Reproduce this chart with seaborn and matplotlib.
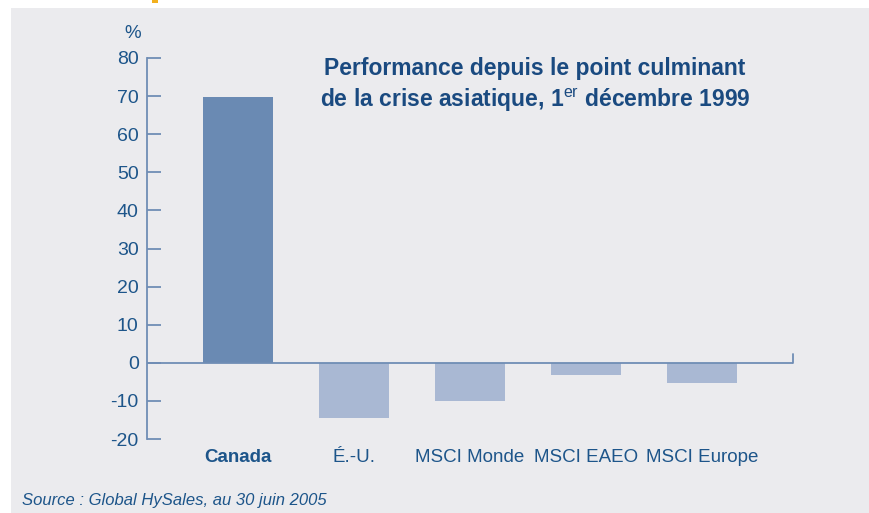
import matplotlib
matplotlib.use("Agg")
import matplotlib.pyplot as plt
import seaborn as sns
import pandas as pd
from matplotlib.patches import Rectangle

# Data
categories = ["Canada", "É.-U.", "MSCI Monde", "MSCI EAEO", "MSCI Europe"]
performance = [69.8, -14.6, -9.9, -3.1, -5.4]
yticks = [-20, -10, 0, 10, 20, 30, 40, 50, 60, 70, 80]

df = pd.DataFrame({"indice": categories, "perf": performance})

sns.set_theme(style="white")
plt.rcParams["font.family"] = ["Liberation Sans Narrow", "Liberation Sans", "DejaVu Sans"]
plt.rcParams["mathtext.fontset"] = "custom"
plt.rcParams["mathtext.rm"] = "Liberation Sans"

txt = "#1d558a"
spine = "#6f8db5"
bg = "#ebebee"
colors = ["#6a8ab3", "#a9b8d3", "#a9b8d3", "#a9b8d3", "#a9b8d3"]

fig = plt.figure(figsize=(8.69, 5.13), dpi=100)
fig.patch.set_facecolor("white")
# grey panel behind the chart
fig.patches.append(Rectangle((11 / 869, 0), 1, 1 - 8 / 513, transform=fig.transFigure,
                             facecolor=bg, edgecolor="none", zorder=-5))
fig.patches.append(Rectangle((152 / 869, 1 - 3 / 513), 6 / 869, 3 / 513, transform=fig.transFigure,
                             facecolor="#f2b01e", edgecolor="none", zorder=-5))

ax = fig.add_axes([147 / 869, 1 - 439 / 513, (793 - 147) / 869, (439 - 58) / 513])
ax.set_facecolor("none")

sns.barplot(data=df, x="indice", y="perf", hue="indice", palette=colors,
            width=0.6, saturation=1, linewidth=0, edgecolor="none",
            legend=False, ax=ax, zorder=2)

ax.set_ylim(-20, 80)
ax.set_xlim(-0.784, 4.784)
ax.set_yticks(yticks)
ax.set_yticklabels([str(v) for v in yticks], fontsize=14, color=txt)
ax.set_xlabel("")
ax.set_ylabel("")

for s in ["top", "right", "bottom"]:
    ax.spines[s].set_visible(False)
ax.spines["left"].set_color(spine)
ax.spines["left"].set_linewidth(1.3)
ax.tick_params(axis="y", left=True, direction="in", length=10, width=1.3, color=spine, pad=6)
ax.tick_params(axis="x", length=0, pad=7)

# zero line with small upturned end
ax.axhline(0, color=spine, lw=1.3, zorder=3)
ax.plot([4.784, 4.784], [0, 2.4], color=spine, lw=1.3, clip_on=False, zorder=3)

for lbl in ax.get_xticklabels():
    lbl.set_color(txt)
    lbl.set_fontsize(13.5)
    if lbl.get_text() == "Canada":
        lbl.set_fontweight("bold")

fig.text(133 / 869, 1 - 33 / 513, "%", color=txt, fontsize=13.5, ha="center", va="center")

fig.text(535 / 869, 1 - 69 / 513, "Performance depuis le point culminant",
         color="#1a4a80", fontsize=16.5, fontweight="bold", ha="center", va="center")
fig.text(535 / 869, 1 - 100 / 513, r"de la crise asiatique, 1$^{\mathrm{er}}$ décembre 1999",
         color="#1a4a80", fontsize=16.5, fontweight="bold", ha="center", va="center")

fig.text(22 / 869, 1 - 500 / 513, "Source : Global HySales, au 30 juin 2005",
         color=txt, fontsize=12, style="italic", ha="left", va="center")

fig.savefig("out.png", dpi=100, facecolor=fig.get_facecolor())
